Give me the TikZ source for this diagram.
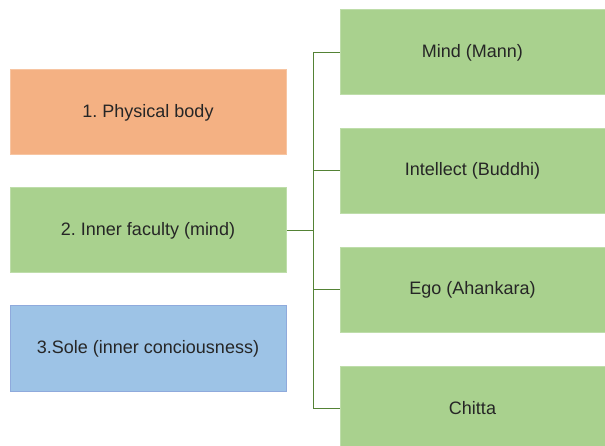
\documentclass[tikz,border=0pt]{standalone}
\usepackage{fontspec}
\setmainfont{Liberation Sans}
\frenchspacing

\definecolor{bodyorange}{RGB}{244,177,131}
\definecolor{minsgreen}{RGB}{169,209,142}
\definecolor{soleblue}{RGB}{157,195,230}
\definecolor{soleline}{RGB}{143,170,220}
\definecolor{linkgreen}{RGB}{84,130,53}
\definecolor{textgrey}{RGB}{38,38,38}

\begin{document}
\begin{tikzpicture}[
  x=1pt, y=-1pt,
  every node/.style = {draw, rectangle, inner sep=0pt, line width=1pt, text=textgrey, font=\fontsize{18}{22}\selectfont},
  part/.style = {minimum width=276pt, minimum height=85pt},
  faculty/.style = {minimum width=265pt, minimum height=85pt, fill=minsgreen, draw=minsgreen!75!white},
  link/.style = {line width=1pt, draw=linkgreen}
]
  \useasboundingbox (0,0) rectangle (605,446);

  % three parts
  \node[part, fill=bodyorange, draw=bodyorange!75!white] (body) at (148,112.5) {1. Physical body};
  \node[part, fill=minsgreen, draw=minsgreen!75!white] (inner) at (148,230.5) {2. Inner faculty (mind)};
  \node[part, fill=soleblue, draw=soleline] (sole) at (148,348.5) {3.Sole (inner conciousness)};

  % inner faculty
  \node[faculty] (mann) at (472.5,52.5) {Mind (Mann)};
  \node[faculty] (buddhi) at (472.5,171) {Intellect (Buddhi)};
  \node[faculty] (ahankara) at (472.5,290) {Ego (Ahankara)};
  \node[faculty] (chitta) at (472.5,408.5) {Chitta};

  \coordinate (split) at (313,230.5);
  \draw[link] (inner.east) -- (split);
  \draw[link] (split) |- (mann.west);
  \draw[link] (split) |- (buddhi.west);
  \draw[link] (split) |- (ahankara.west);
  \draw[link] (split) |- (chitta.west);
\end{tikzpicture}
\end{document}
